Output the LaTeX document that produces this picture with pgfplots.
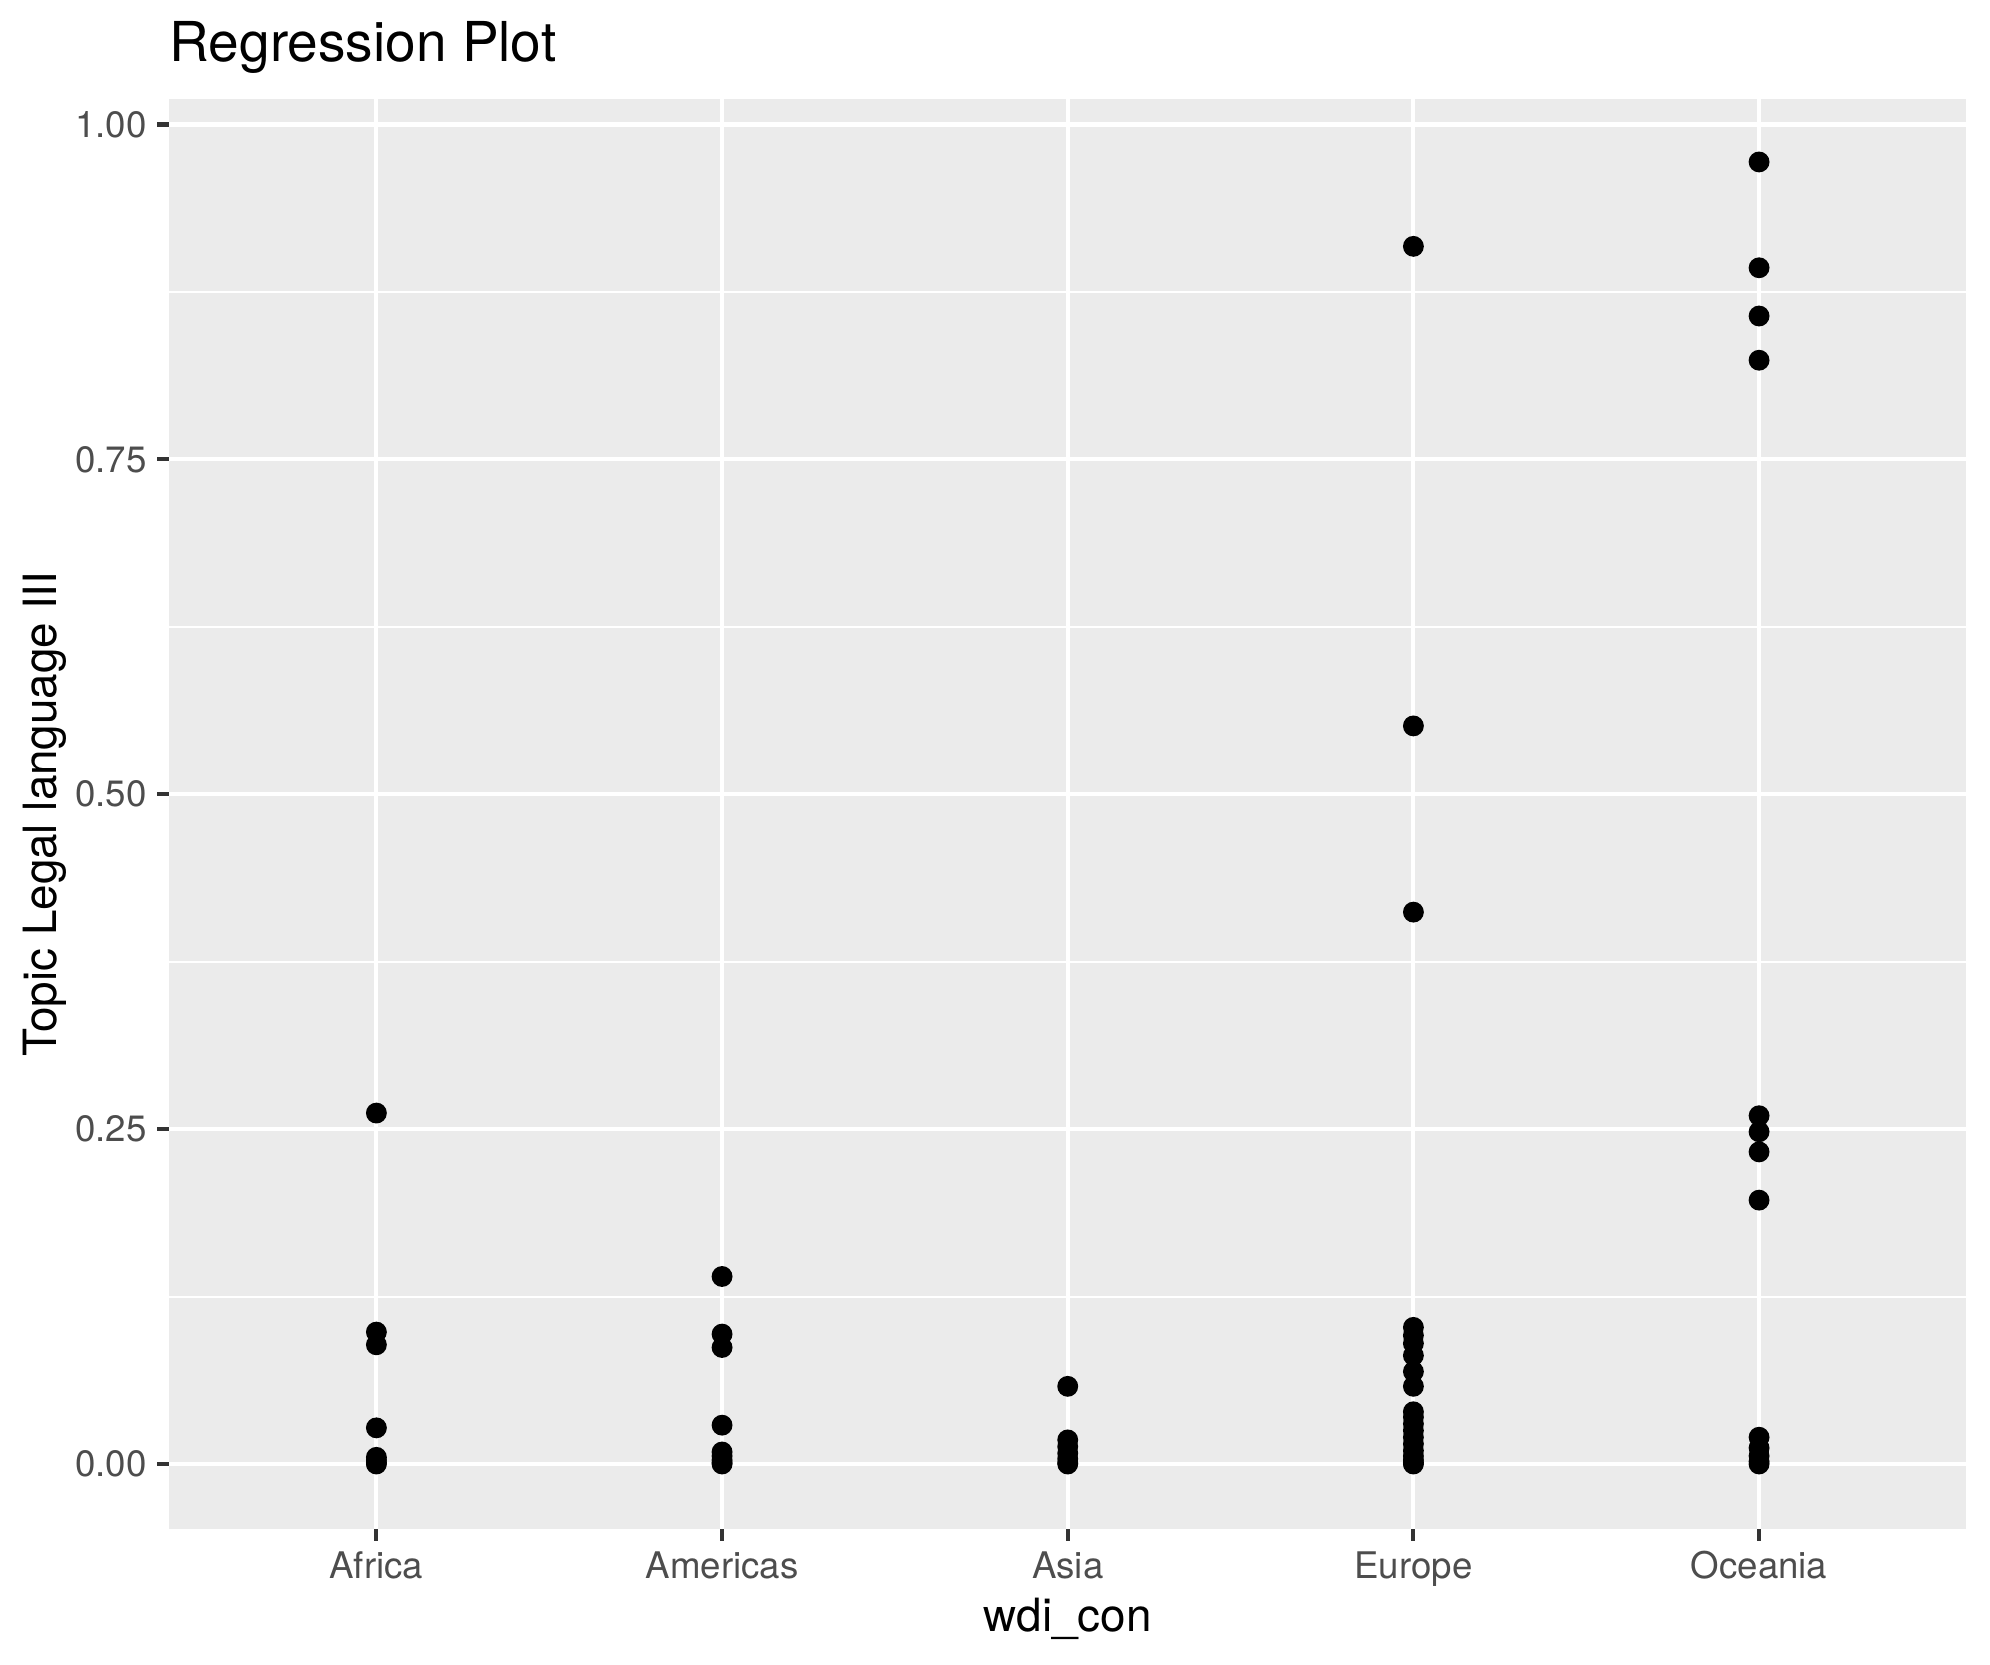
\documentclass[border=0pt]{standalone}
\usepackage{pgfplots}
\pgfplotsset{compat=1.18}
\usepackage{fontspec}
\setmainfont{TeX Gyre Heros}
\definecolor{panelbg}{HTML}{EBEBEB}
\definecolor{ticklab}{HTML}{4D4D4D}
\definecolor{tickcol}{HTML}{333333}
\begin{document}
\begin{tikzpicture}
\useasboundingbox (0,0) rectangle (477.6pt,399.6pt);
\begin{axis}[
  at={(40.56pt,32.64pt)}, anchor=south west,
  scale only axis,
  width=431.4pt, height=343.2pt,
  xmin=-0.6, xmax=4.6,
  ymin=-0.0485, ymax=1.019,
  xtick={0,1,2,3,4},
  xticklabels={Africa,Americas,Asia,Europe,Oceania},
  ytick={0,0.25,0.5,0.75,1},
  yticklabels={0.00,0.25,0.50,0.75,1.00},
  minor ytick={0.125,0.375,0.625,0.875},
  xmajorgrids, ymajorgrids, yminorgrids,
  major grid style={white, line width=1.0pt},
  minor grid style={white, line width=0.5pt},
  axis line style={draw=none},
  axis background/.style={fill=panelbg},
  tick align=outside,
  major tick length=2.8pt,
  minor tick length=0pt,
  tick style={tickcol, line width=1.0pt},
  xtick pos=bottom, ytick pos=left,
  tick label style={font=\fontsize{8.8}{10}\selectfont, text=ticklab, inner sep=0pt},
  /pgf/number format/assume math mode=true,
  xticklabel style={anchor=base, yshift=-9.1pt},
  yticklabel style={anchor=east, xshift=-2.4pt},
  xlabel={wdi\_con},
  ylabel={Topic Legal language III},
  xlabel style={font=\fontsize{11}{13}\selectfont, inner sep=0pt, at={(axis description cs:0.5,0)}, anchor=base, yshift=-24.5pt},
  ylabel style={font=\fontsize{11}{13}\selectfont, inner sep=0pt, at={(axis description cs:0,0.5)}, anchor=base, yshift=26.9pt},
  title={Regression Plot},
  title style={font=\fontsize{13.2}{15}\selectfont, inner sep=0pt, at={(axis description cs:0,1)}, anchor=base west, yshift=2.9pt},
  clip=false,
]
\addplot[only marks, mark=*, mark size=2.3pt, black] coordinates {
 (0,0.262) (0,0.0985) (0,0.089) (0,0.027) (0,0.005) (0,0.003) (0,0.001) (0,0.0)
 (1,0.140) (1,0.097) (1,0.087) (1,0.029) (1,0.009) (1,0.006) (1,0.003) (1,0.001) (1,0.0)
 (2,0.058) (2,0.018) (2,0.013) (2,0.008) (2,0.004) (2,0.001) (2,0.0)
 (3,0.909) (3,0.551) (3,0.412) (3,0.102) (3,0.096) (3,0.090) (3,0.081) (3,0.069) (3,0.058)
 (3,0.039) (3,0.035) (3,0.030) (3,0.025) (3,0.020) (3,0.015) (3,0.010) (3,0.006) (3,0.003) (3,0.001) (3,0.0)
 (4,0.972) (4,0.893) (4,0.857) (4,0.824) (4,0.260) (4,0.248) (4,0.233) (4,0.197)
 (4,0.020) (4,0.012) (4,0.006) (4,0.002) (4,0.0)
};
\end{axis}
\end{tikzpicture}
\end{document}
